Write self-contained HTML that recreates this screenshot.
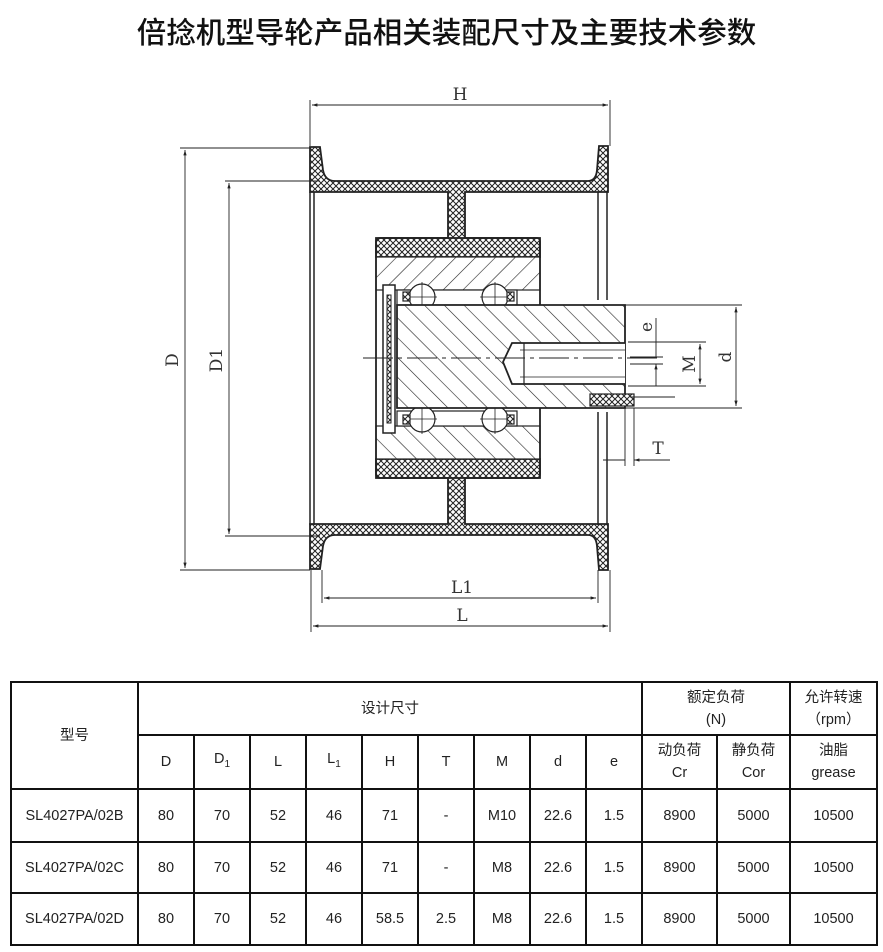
<!DOCTYPE html>
<html><head><meta charset="utf-8">
<style>
body{margin:0;background:#fff;width:883px;height:952px;overflow:hidden;font-family:"Liberation Sans","Noto Sans CJK SC",sans-serif;}
.title{position:absolute;left:0;top:10px;width:893px;text-align:center;font-size:29.5px;font-family:"Noto Sans CJK SC","WenQuanYi Zen Hei",sans-serif;font-weight:500;color:#111;letter-spacing:0px}
svg{position:absolute;left:0;top:0}
table{position:absolute;left:10px;top:681px;border-collapse:collapse;font-size:14.5px;color:#222}
td{border:2px solid #111;text-align:center;padding:0;line-height:22px}
.cj{font-family:"Liberation Sans","Noto Sans CJK SC",sans-serif}
</style></head><body>
<div class="title">倍捻机型导轮产品相关装配尺寸及主要技术参数</div>
<svg width="883" height="680" viewBox="0 0 883 680">
<defs>
<pattern id="xh" width="6" height="6" patternUnits="userSpaceOnUse"><rect width="6" height="6" fill="#fff"/><path d="M0 0L6 6M6 0L0 6" stroke="#222" stroke-width="1"/></pattern>
<pattern id="dh" width="14" height="14" patternUnits="userSpaceOnUse" patternTransform="rotate(45)"><rect width="14" height="14" fill="#fff"/><path d="M0 0V14" stroke="#222" stroke-width="1.2"/></pattern>
<pattern id="dh2" width="14" height="14" patternUnits="userSpaceOnUse" patternTransform="rotate(-45)"><rect width="14" height="14" fill="#fff"/><path d="M0 0V14" stroke="#222" stroke-width="1.2"/></pattern>
<marker id="a" viewBox="0 0 10 10" refX="10" refY="5" markerWidth="9" markerHeight="6" orient="auto-start-reverse"><path d="M0 2L10 5L0 8Z" fill="#222"/></marker>
</defs>
<g stroke="#222" fill="none" stroke-width="1.2">
<!-- wheel body -->
<g id="top">
<path d="M310 147L320 147L323 170Q325 181 335 181L588 181Q596 181 597 170L599 146L608 146L608 192L465 192L465 238L537 238Q540 238 540 242L540 257L376 257L376 242Q376 238 380 238L448 238L448 192L310 192Z" fill="url(#xh)" stroke-width="1.8"/>
<rect x="376" y="257" width="164" height="33" fill="url(#dh)"/>
<rect x="397" y="290" width="120" height="15" fill="#fff"/>
<circle cx="422" cy="297" r="13" fill="#fff"/><circle cx="495" cy="297" r="13" fill="#fff"/>
<path d="M422 282V312M407 297H437M495 282V312M480 297H510" stroke-width="0.8"/>
<rect x="403" y="292" width="7" height="9" fill="url(#xh)"/><rect x="507" y="292" width="7" height="9" fill="url(#xh)"/>
</g>
<use href="#top" transform="translate(0,716) scale(1,-1)"/>
<rect x="376" y="238" width="164" height="240" stroke-width="1.8"/>
<!-- rim lines -->
<path d="M310 192V525M314 192V525M598 192V300M598 412V525M607 192V300M607 412V525" stroke-width="1.5"/>
<!-- left cap -->
<rect x="383" y="285" width="12" height="148" fill="#fff" stroke-width="1.5"/>
<rect x="387" y="295" width="4" height="128" fill="url(#xh)" stroke-width="1"/>
<!-- shaft -->
<path d="M397 305H625V408H397Z" fill="url(#dh2)" stroke-width="1.8"/>
<path d="M625 343H512L503 362L512 384H625" fill="#fff" stroke-width="1.8"/>
<path d="M524 343V384" stroke-width="1.2"/>
<path d="M520 350H625M520 377H625" stroke-width="0.8"/>
<rect x="590" y="394" width="44" height="12" fill="url(#xh)" stroke-width="1.2"/>
<!-- centerline -->
<path d="M363 358H660" stroke-dasharray="30 5 4 5" stroke-width="0.9"/>
<!-- dimensions -->
<path d="M310 100V146M610 100V146" stroke-width="0.9"/>
<path d="M312 105H608" marker-start="url(#a)" marker-end="url(#a)" stroke-width="0.9"/>
<path d="M180 148H310M180 570H310M225 181H320M225 536H320" stroke-width="0.9"/>
<path d="M185 150V568" marker-start="url(#a)" marker-end="url(#a)" stroke-width="0.9"/>
<path d="M229 183V534" marker-start="url(#a)" marker-end="url(#a)" stroke-width="0.9"/>
<path d="M311 570V632M322 570V603M598 570V603M610 570V632" stroke-width="0.9"/>
<path d="M324 598H596" marker-start="url(#a)" marker-end="url(#a)" stroke-width="0.9"/>
<path d="M313 626H608" marker-start="url(#a)" marker-end="url(#a)" stroke-width="0.9"/>
<path d="M625 305H742M625 408H742M628 342H706M628 386H706M630 397H675M630 357H663M630 364H663" stroke-width="0.9"/>
<path d="M736 307V406" marker-start="url(#a)" marker-end="url(#a)" stroke-width="0.9"/>
<path d="M700 344V384" marker-start="url(#a)" marker-end="url(#a)" stroke-width="0.9"/>
<path d="M656 318V357M656 386V364" marker-end="url(#a)" stroke-width="0.9"/>
<path d="M625 408V466M634 408V466" stroke-width="0.9"/>
<path d="M603 460H625M670 460H634" marker-end="url(#a)" stroke-width="0.9"/>
</g>
<g font-family="DejaVu Serif,Liberation Serif,serif" font-size="17" fill="#333">
<text x="460" y="100" text-anchor="middle">H</text>
<text x="462" y="593" text-anchor="middle">L1</text>
<text x="462" y="621" text-anchor="middle">L</text>
<text x="658" y="454" text-anchor="middle">T</text>
<text transform="translate(178,360) rotate(-90)" text-anchor="middle">D</text>
<text transform="translate(222,360) rotate(-90)" text-anchor="middle">D1</text>
<text transform="translate(652,327) rotate(-90)" text-anchor="middle">e</text>
<text transform="translate(695,364) rotate(-90)" text-anchor="middle">M</text>
<text transform="translate(731,357) rotate(-90)" text-anchor="middle">d</text>
</g>
</svg>
<table>
<colgroup><col style="width:127px"><col style="width:56px"><col style="width:56px"><col style="width:56px"><col style="width:56px"><col style="width:56px"><col style="width:56px"><col style="width:56px"><col style="width:56px"><col style="width:56px"><col style="width:75px"><col style="width:73px"><col style="width:87px"></colgroup>
<tr style="height:53px"><td rowspan="2">型号</td><td colspan="9">设计尺寸</td><td colspan="2">额定负荷<br>(N)</td><td>允许转速<br>（rpm）</td></tr>
<tr style="height:54px"><td>D</td><td>D<sub style="font-size:10px">1</sub></td><td>L</td><td>L<sub style="font-size:10px">1</sub></td><td>H</td><td>T</td><td>M</td><td>d</td><td>e</td><td>动负荷<br>Cr</td><td>静负荷<br>Cor</td><td>油脂<br>grease</td></tr>
<tr style="height:53px"><td>SL4027PA/02B</td><td>80</td><td>70</td><td>52</td><td>46</td><td>71</td><td>-</td><td>M10</td><td>22.6</td><td>1.5</td><td>8900</td><td>5000</td><td>10500</td></tr>
<tr style="height:51px"><td>SL4027PA/02C</td><td>80</td><td>70</td><td>52</td><td>46</td><td>71</td><td>-</td><td>M8</td><td>22.6</td><td>1.5</td><td>8900</td><td>5000</td><td>10500</td></tr>
<tr style="height:52px"><td>SL4027PA/02D</td><td>80</td><td>70</td><td>52</td><td>46</td><td>58.5</td><td>2.5</td><td>M8</td><td>22.6</td><td>1.5</td><td>8900</td><td>5000</td><td>10500</td></tr>
</table>
</body></html>
